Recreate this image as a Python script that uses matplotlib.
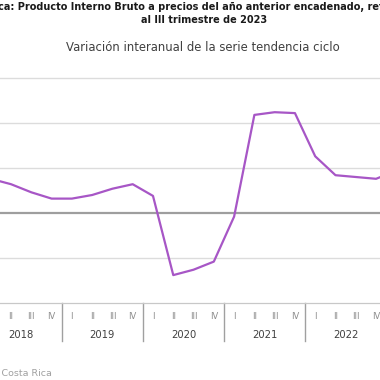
import numpy as np
import matplotlib.pyplot as plt


years = ['2018', '2019', '2020', '2021', '2022', '2023']
quarters = ['I', 'II', 'III', 'IV']

# variacion interanual (%), 2018-I ... 2023-III
values = [3.8, 3.2, 2.3, 1.6,
          1.6, 2.0, 2.7, 3.2,
          1.9, -6.9, -6.3, -5.4,
          -0.4, 10.9, 11.2, 11.1,
          6.3, 4.2, 4.0, 3.8,
          4.7, 5.0, 5.0]

title_1 = 'Costa Rica: Producto Interno Bruto a precios del año anterior encadenado, referencia 2017'
title_2 = 'al III trimestre de 2023'
subtitle = 'Variación interanual de la serie tendencia ciclo'
source = 'Fuente: Banco Central de Costa Rica'

purple = '#a756c6'
x = np.arange(len(values))

fig = plt.figure(figsize=(3.8, 3.8), dpi=100)
# the chart is wider than the picture, so the axes run past the edges
ax = fig.add_axes([-0.051, 0.2026, 1.2274, 0.6395])

ax.set_xlim(-0.5, len(values) - 0.5)
ax.set_ylim(-10, 17)

for g in [-5, 5, 10, 15]:
    ax.axhline(g, color='#dcdcdc', lw=1.0, zorder=1)
ax.axhline(0, color='#9e9e9e', lw=1.6, zorder=2)

ax.plot(x, values, color=purple, lw=1.6, zorder=3)

for s in ['top', 'right', 'left']:
    ax.spines[s].set_visible(False)
ax.spines['bottom'].set_color('#c8c8c8')
ax.spines['bottom'].set_linewidth(0.9)
ax.set_xticks([])
ax.set_yticks([])

trans = ax.get_xaxis_transform()
for i in range(len(values)):
    ax.text(i, -0.054, quarters[i % 4], transform=trans, ha='center', va='center',
            fontsize=6, color='#8c8c8c', clip_on=False)
for k, yr in enumerate(years):
    n = min(4, len(values) - 4 * k)
    ax.text(4 * k + (n - 1) / 2, -0.132, yr, transform=trans, ha='center', va='center',
            fontsize=7.2, color='#404040', clip_on=False)
    if k > 0:
        ax.plot([4 * k - 0.5, 4 * k - 0.5], [0, -0.156], transform=trans,
                color='#a0a0a0', lw=1.0, clip_on=False)

fig.text(0.537, 0.982, title_1, ha='center', va='center', fontsize=7.0,
         fontweight='bold', color='#1a1a1a')
fig.text(0.537, 0.947, title_2, ha='center', va='center', fontsize=7.0,
         fontweight='bold', color='#1a1a1a')
fig.text(0.535, 0.876, subtitle, ha='center', va='center', fontsize=8.4,
         color='#404040')
fig.text(0.137, 0.018, source, ha='right', va='center', fontsize=6.8,
         color='#a0a0a0')

fig.savefig('out.png', dpi=100)
